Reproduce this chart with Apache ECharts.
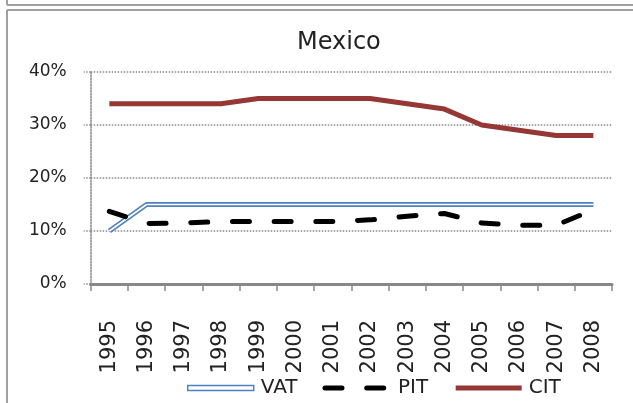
<!DOCTYPE html>
<html>
<head>
<meta charset="utf-8">
<script src="https://cdn.jsdelivr.net/npm/echarts@6/dist/echarts.min.js"></script>
<style>
html,body{margin:0;padding:0;background:#fff;}
#chart{width:633px;height:403px;}
</style>
</head>
<body>
<div id="chart"></div>
<script>
var years = ['1995','1996','1997','1998','1999','2000','2001','2002','2003','2004','2005','2006','2007','2008'];
var vat = [10, 15, 15, 15, 15, 15, 15, 15, 15, 15, 15, 15, 15, 15];
var pit = [13.7, 11.4, 11.5, 11.8, 11.8, 11.8, 11.8, 12.1, 12.8, 13.3, 11.5, 11.1, 11.1, 14.0];
var cit = [34, 34, 34, 34, 35, 35, 35, 35, 34, 33, 30, 29, 28, 28];
var yTicks = [0, 10, 20, 30, 40];

var FONT = 'DejaVu Sans';
var chart = echarts.init(document.getElementById('chart'), null, {renderer: 'canvas'});
var border = {stroke: '#a0a0a0', lineWidth: 2};
var pitDash = [17, 24.7];
chart.setOption({
  backgroundColor: '#fff',
  animation: false,
  title: {
    text: 'Mexico', left: 292, top: 26,
    textStyle: {fontFamily: FONT, fontSize: 24, fontWeight: 'normal', color: '#222'}
  },
  graphic: [
    {type: 'line', shape: {x1: 7, y1: 5, x2: 633, y2: 5}, style: border, silent: true},
    {type: 'line', shape: {x1: 7, y1: 0, x2: 7, y2: 5}, style: border, silent: true},
    {type: 'line', shape: {x1: 7, y1: 10, x2: 633, y2: 10}, style: border, silent: true},
    {type: 'line', shape: {x1: 7, y1: 10, x2: 7, y2: 403}, style: border, silent: true}
  ],
  legend: {
    left: 182, top: 373,
    itemWidth: 66, itemHeight: 14, itemGap: 25,
    textStyle: {fontFamily: FONT, fontSize: 20, color: '#222', padding: [0, 0, 0, 2]},
    data: [
      {name: 'VAT', icon: 'path://M0,0 H68 V5 H0 Z', itemStyle: {color: '#fff', borderColor: '#4f81bd', borderWidth: 1.5}},
      {name: 'PIT', itemStyle: {opacity: 0}, lineStyle: {color: '#000', width: 5, type: pitDash, cap: 'round'}},
      {name: 'CIT', itemStyle: {opacity: 0}, lineStyle: {color: '#953735', width: 5}}
    ]
  },
  grid: {left: 90.7, right: 21, top: 72, bottom: 119, containLabel: false},
  xAxis: {
    type: 'category', data: years, boundaryGap: true,
    axisLine: {lineStyle: {color: '#888', width: 3}},
    axisTick: {show: true, length: 7, alignWithLabel: false, lineStyle: {color: '#888', width: 1.5}},
    axisLabel: {rotate: 90, margin: 36, interval: 0, fontFamily: FONT, fontSize: 21, color: '#222'},
    splitLine: {show: false}
  },
  yAxis: {
    type: 'value', min: yTicks[0], max: yTicks[yTicks.length - 1], interval: 10,
    axisLine: {show: true, lineStyle: {color: '#888', width: 1.5, type: [1.5, 1.5]}},
    axisTick: {show: true, length: 7, lineStyle: {color: '#888', width: 1.5, type: [1.5, 1.5]}},
    axisLabel: {formatter: '{value}%', margin: 24, fontFamily: FONT, fontSize: 17, color: '#222'},
    splitLine: {show: true, lineStyle: {color: '#888', width: 1.5, type: [1.5, 1.5]}}
  },
  series: [
    {name: 'VAT', type: 'line', data: vat, symbol: 'none', showSymbol: false,
     lineStyle: {color: '#4f81bd', width: 5}, itemStyle: {color: '#4f81bd'}},
    {name: 'VAT_inner', type: 'line', data: vat, symbol: 'none', showSymbol: false,
     lineStyle: {color: '#fff', width: 1.6}, itemStyle: {color: '#fff'}, silent: true},
    {name: 'PIT', type: 'line', data: pit, symbol: 'none', showSymbol: false,
     lineStyle: {color: '#000', width: 5, type: pitDash, cap: 'round'}, itemStyle: {color: '#000'}},
    {name: 'CIT', type: 'line', data: cit, symbol: 'none', showSymbol: false,
     lineStyle: {color: '#953735', width: 5}, itemStyle: {color: '#953735'}}
  ]
});
</script>
</body>
</html>
